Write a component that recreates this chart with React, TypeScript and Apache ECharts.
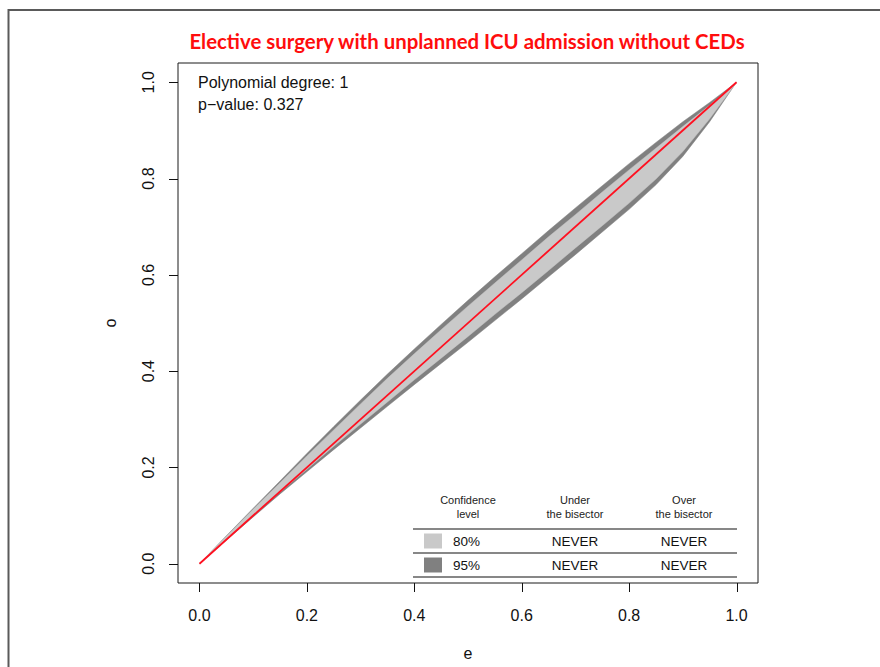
import React, { useEffect, useRef } from "react";
import * as echarts from "echarts";

// Expected probability grid (e) and calibration belt limits (o)
const E = [0, 0.05, 0.1, 0.15, 0.2, 0.25, 0.3, 0.35, 0.4, 0.45, 0.5, 0.55, 0.6, 0.65, 0.7, 0.75, 0.8, 0.85, 0.9, 0.95, 1];
const UPPER_95 = [0, 0.058, 0.115, 0.172, 0.229, 0.285, 0.34, 0.394, 0.446, 0.497, 0.547, 0.596, 0.644, 0.692, 0.739, 0.785, 0.831, 0.875, 0.918, 0.958, 1];
const UPPER_80 = [0, 0.057, 0.113, 0.168, 0.224, 0.278, 0.332, 0.385, 0.436, 0.486, 0.535, 0.583, 0.631, 0.679, 0.725, 0.772, 0.818, 0.863, 0.908, 0.952, 1];
const LOWER_80 = [0, 0.05, 0.1, 0.149, 0.196, 0.244, 0.29, 0.336, 0.382, 0.427, 0.472, 0.518, 0.563, 0.609, 0.656, 0.702, 0.749, 0.799, 0.856, 0.924, 1];
const LOWER_95 = [0, 0.049, 0.097, 0.145, 0.191, 0.237, 0.282, 0.327, 0.372, 0.416, 0.46, 0.505, 0.55, 0.596, 0.642, 0.689, 0.736, 0.787, 0.846, 0.918, 1];

// Bisector
const BISECTOR = [[0, 0], [1, 1]];

const TICKS = [0, 0.2, 0.4, 0.6, 0.8, 1];
const AXIS_MIN = -0.04;
const AXIS_MAX = 1.04;

const TITLE = "Elective surgery with unplanned ICU admission without CEDs";
const INFO_LINES = ["Polynomial degree: 1", "p\u2212value: 0.327"];

// Summary table
const TABLE_HEADERS = [["Confidence", "level"], ["Under", "the bisector"], ["Over", "the bisector"]];
const TABLE_ROWS = [
  { level: "80%", under: "NEVER", over: "NEVER" },
  { level: "95%", under: "NEVER", over: "NEVER" },
];

const COLOR_80 = "#c9c9c9";
const COLOR_95 = "#808080";
const FONT = "'Liberation Sans', Arial, Helvetica, sans-serif";
const TICK_LEN = 9;

function bandSeries(upper: number[], lower: number[], fill: string, z: number) {
  return {
    type: "custom",
    silent: true,
    z,
    data: [[0, 0]],
    renderItem: (_params: any, api: any) => {
      const pts: number[][] = [];
      for (let i = 0; i < E.length; i++) pts.push(api.coord([E[i], upper[i]]));
      for (let i = E.length - 1; i >= 0; i--) pts.push(api.coord([E[i], lower[i]]));
      return { type: "polygon", shape: { points: pts }, style: { fill, stroke: fill, lineWidth: 0.5 } };
    },
  };
}

// R-style outward tick marks on the box edges, placed through the axis scales
function tickSeries(horizontal: boolean) {
  return {
    type: "custom",
    silent: true,
    clip: false,
    z: 6,
    data: TICKS.map((v) => [v]),
    renderItem: (params: any, api: any) => {
      const v = TICKS[params.dataIndex];
      if (horizontal) {
        const p = api.coord([v, AXIS_MIN]);
        const x = Math.round(p[0]) + 0.5;
        return { type: "line", shape: { x1: x, y1: p[1], x2: x, y2: p[1] + TICK_LEN }, style: { stroke: "#111", lineWidth: 1 } };
      }
      const p = api.coord([AXIS_MIN, v]);
      const y = Math.round(p[1]) + 0.5;
      return { type: "line", shape: { x1: p[0], y1: y, x2: p[0] - TICK_LEN, y2: y }, style: { stroke: "#111", lineWidth: 1 } };
    },
  };
}

export default function App() {
  const ref = useRef<HTMLDivElement>(null);

  useEffect(() => {
    if (!ref.current) return;
    const chart = echarts.init(ref.current, undefined, { renderer: "svg" });

    const colX = [468, 575, 684];
    const lineX0 = 413;
    const lineX1 = 737;
    const ruleY = [529, 553, 577];
    const rowY = [541, 565];
    const rowColors = [COLOR_80, COLOR_95];

    const graphics: any[] = [
      {
        type: "polyline",
        shape: { points: [[8.5, 670], [8.5, 10], [882, 10]] },
        style: { stroke: "#5a5a5a", lineWidth: 2, fill: "none" },
        silent: true,
      },
      {
        type: "text",
        x: 467,
        y: 41,
        style: {
          text: TITLE,
          fill: "#ff0d0d",
          font: "bold 20.4px Lato, 'Open Sans', sans-serif",
          align: "center",
          verticalAlign: "middle",
        },
      },
    ];
    INFO_LINES.forEach((t, i) => {
      graphics.push({
        type: "text",
        x: 198,
        y: 82 + i * 22,
        style: { text: t, fill: "#111", font: `16px ${FONT}`, align: "left", verticalAlign: "middle" },
      });
    });
    TABLE_HEADERS.forEach((h, c) => {
      h.forEach((t, k) => {
        graphics.push({
          type: "text",
          x: colX[c],
          y: 500 + k * 13.5,
          style: { text: t, fill: "#222", font: `11px ${FONT}`, align: "center", verticalAlign: "middle" },
        });
      });
    });
    ruleY.forEach((y) => {
      graphics.push({
        type: "line",
        shape: { x1: lineX0, y1: y, x2: lineX1, y2: y },
        style: { stroke: "#111", lineWidth: 1.2 },
      });
    });
    TABLE_ROWS.forEach((r, i) => {
      graphics.push({
        type: "rect",
        shape: { x: 424, y: rowY[i] - 7.5, width: 18, height: 15 },
        style: { fill: rowColors[i] },
      });
      graphics.push({
        type: "text",
        x: 453,
        y: rowY[i],
        style: { text: r.level, fill: "#111", font: `13.5px ${FONT}`, align: "left", verticalAlign: "middle" },
      });
      graphics.push({
        type: "text",
        x: colX[1],
        y: rowY[i],
        style: { text: r.under, fill: "#111", font: `13.5px ${FONT}`, align: "center", verticalAlign: "middle" },
      });
      graphics.push({
        type: "text",
        x: colX[2],
        y: rowY[i],
        style: { text: r.over, fill: "#111", font: `13.5px ${FONT}`, align: "center", verticalAlign: "middle" },
      });
    });

    const fmt = (v: number) => v.toFixed(1);

    chart.setOption({
      animation: false,
      backgroundColor: "#ffffff",
      grid: {
        left: 178,
        top: 63,
        width: 580,
        height: 520,
        show: true,
        borderColor: "#1a1a1a",
        borderWidth: 1,
        backgroundColor: "transparent",
      },
      xAxis: {
        type: "value",
        min: AXIS_MIN,
        max: AXIS_MAX,
        name: "e",
        nameLocation: "middle",
        nameGap: 62,
        nameTextStyle: { fontFamily: FONT, fontSize: 16, color: "#111" },
        axisLine: { show: false, onZero: false },
        splitLine: { show: false },
        axisTick: { show: false },
        axisLabel: { customValues: TICKS, formatter: fmt, fontFamily: FONT, fontSize: 16, color: "#111", margin: 24 },
      },
      yAxis: {
        type: "value",
        min: AXIS_MIN,
        max: AXIS_MAX,
        name: "o",
        nameLocation: "middle",
        nameRotate: 90,
        nameGap: 60,
        nameTextStyle: { fontFamily: FONT, fontSize: 16, color: "#111" },
        axisLine: { show: false, onZero: false },
        splitLine: { show: false },
        axisTick: { show: false },
        axisLabel: { customValues: TICKS, formatter: fmt, rotate: 90, fontFamily: FONT, fontSize: 16, color: "#111", margin: 22 },
      },
      series: [
        bandSeries(UPPER_95, LOWER_95, COLOR_95, 1),
        bandSeries(UPPER_80, LOWER_80, COLOR_80, 2),
        {
          type: "line",
          data: BISECTOR,
          symbol: "none",
          z: 5,
          silent: true,
          lineStyle: { color: "#ff1020", width: 1.8 },
        },
        tickSeries(true),
        tickSeries(false),
      ],
      graphic: graphics,
    });

    return () => chart.dispose();
  }, []);

  return <div ref={ref} style={{ position: "fixed", left: 0, top: 0, width: 880, height: 667 }} />;
}
